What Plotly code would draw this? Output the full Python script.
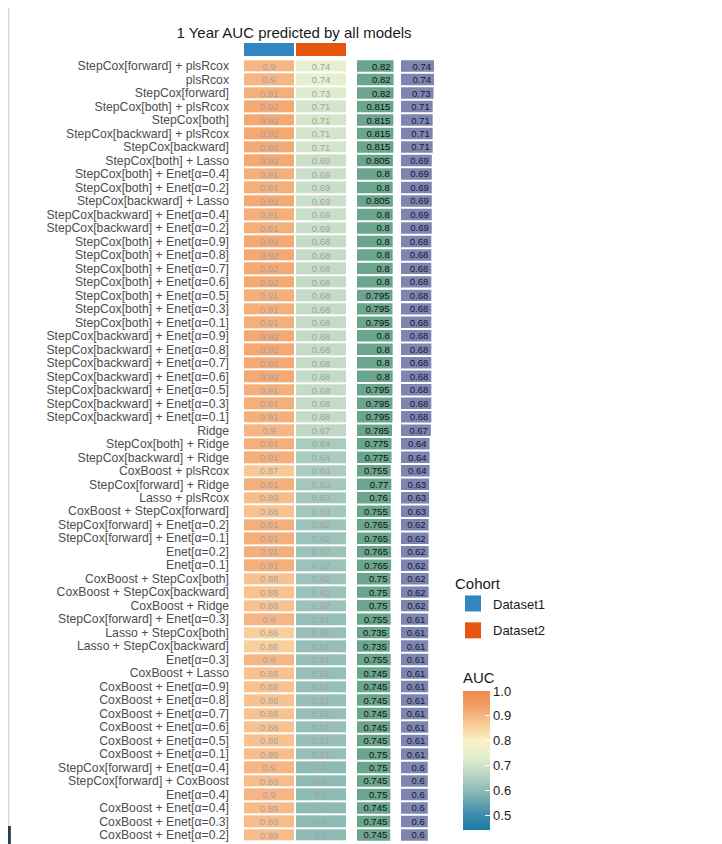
import plotly.graph_objects as go

models = [
    "StepCox[forward] + plsRcox", "plsRcox", "StepCox[forward]", "StepCox[both] + plsRcox",
    "StepCox[both]", "StepCox[backward] + plsRcox", "StepCox[backward]", "StepCox[both] + Lasso",
    "StepCox[both] + Enet[α=0.4]", "StepCox[both] + Enet[α=0.2]", "StepCox[backward] + Lasso",
    "StepCox[backward] + Enet[α=0.4]", "StepCox[backward] + Enet[α=0.2]",
    "StepCox[both] + Enet[α=0.9]", "StepCox[both] + Enet[α=0.8]", "StepCox[both] + Enet[α=0.7]",
    "StepCox[both] + Enet[α=0.6]", "StepCox[both] + Enet[α=0.5]", "StepCox[both] + Enet[α=0.3]",
    "StepCox[both] + Enet[α=0.1]", "StepCox[backward] + Enet[α=0.9]", "StepCox[backward] + Enet[α=0.8]",
    "StepCox[backward] + Enet[α=0.7]", "StepCox[backward] + Enet[α=0.6]", "StepCox[backward] + Enet[α=0.5]",
    "StepCox[backward] + Enet[α=0.3]", "StepCox[backward] + Enet[α=0.1]", "Ridge",
    "StepCox[both] + Ridge", "StepCox[backward] + Ridge", "CoxBoost + plsRcox", "StepCox[forward] + Ridge",
    "Lasso + plsRcox", "CoxBoost + StepCox[forward]", "StepCox[forward] + Enet[α=0.2]",
    "StepCox[forward] + Enet[α=0.1]", "Enet[α=0.2]", "Enet[α=0.1]", "CoxBoost + StepCox[both]",
    "CoxBoost + StepCox[backward]", "CoxBoost + Ridge", "StepCox[forward] + Enet[α=0.3]",
    "Lasso + StepCox[both]", "Lasso + StepCox[backward]", "Enet[α=0.3]", "CoxBoost + Lasso",
    "CoxBoost + Enet[α=0.9]", "CoxBoost + Enet[α=0.8]", "CoxBoost + Enet[α=0.7]",
    "CoxBoost + Enet[α=0.6]", "CoxBoost + Enet[α=0.5]", "CoxBoost + Enet[α=0.1]",
    "StepCox[forward] + Enet[α=0.4]", "StepCox[forward] + CoxBoost", "Enet[α=0.4]",
    "CoxBoost + Enet[α=0.4]", "CoxBoost + Enet[α=0.3]", "CoxBoost + Enet[α=0.2]",
]

auc_dataset1 = [
    0.9, 0.9, 0.91, 0.92, 0.92, 0.92, 0.92, 0.92, 0.91, 0.91, 0.92, 0.91, 0.91,
    0.92, 0.92, 0.92, 0.92, 0.91, 0.91, 0.91, 0.92, 0.92, 0.92, 0.92, 0.91, 0.91, 0.91,
    0.9, 0.91, 0.91, 0.87, 0.91, 0.89, 0.88, 0.91, 0.91, 0.91, 0.91, 0.88, 0.88, 0.88,
    0.9, 0.86, 0.86, 0.9, 0.88, 0.88, 0.88, 0.88, 0.88, 0.88, 0.89, 0.9, 0.89, 0.9,
    0.89, 0.89, 0.89,
]
auc_dataset2 = [
    0.74, 0.74, 0.73, 0.71, 0.71, 0.71, 0.71, 0.69, 0.69, 0.69, 0.69, 0.69, 0.69,
    0.68, 0.68, 0.68, 0.68, 0.68, 0.68, 0.68, 0.68, 0.68, 0.68, 0.68, 0.68, 0.68, 0.68,
    0.67, 0.64, 0.64, 0.64, 0.63, 0.63, 0.63, 0.62, 0.62, 0.62, 0.62, 0.62, 0.62, 0.62,
    0.61, 0.61, 0.61, 0.61, 0.61, 0.61, 0.61, 0.61, 0.61, 0.61, 0.61, 0.6, 0.6, 0.6,
    0.6, 0.6, 0.6,
]
mean_auc = [
    0.82, 0.82, 0.82, 0.815, 0.815, 0.815, 0.815, 0.805, 0.8, 0.8, 0.805, 0.8, 0.8,
    0.8, 0.8, 0.8, 0.8, 0.795, 0.795, 0.795, 0.8, 0.8, 0.8, 0.8, 0.795, 0.795, 0.795,
    0.785, 0.775, 0.775, 0.755, 0.77, 0.76, 0.755, 0.765, 0.765, 0.765, 0.765, 0.75, 0.75, 0.75,
    0.755, 0.735, 0.735, 0.755, 0.745, 0.745, 0.745, 0.745, 0.745, 0.745, 0.75, 0.75, 0.745, 0.75,
    0.745, 0.745, 0.745,
]
cohorts = ["Dataset1", "Dataset2"]
cohort_colors = ["#2f86c1", "#e5570f"]
colorbar_ticks = [0.5, 0.6, 0.7, 0.8, 0.9, 1.0]

# page has an 8px body margin at top/left: figure shifted accordingly
OFF = 8
W, H = 722 - OFF, 844 - OFF
def px_x(p): return (p - OFF) / W
def px_y(p): return 1 - (p - OFF) / H

n = len(models)
zmin, zmax = 0.44, 1.0
def nv(v): return (v - zmin) / (zmax - zmin)
colorscale = [
    [nv(0.44), "#1c7ba5"], [nv(0.5), "#3a8bab"], [nv(0.6), "#8fbbb5"],
    [nv(0.68), "#c4dcc6"], [nv(0.74), "#e6efd0"], [nv(0.8), "#fbf1c3"],
    [nv(0.87), "#f8c994"], [nv(0.9), "#f6b584"], [nv(0.92), "#f4a872"],
    [nv(1.0), "#ee8a48"],
]

def fmt(v):
    return ("%.3f" % v).rstrip("0").rstrip(".")

z = [[a, b] for a, b in zip(auc_dataset1, auc_dataset2)]
ztext = [[fmt(a), fmt(b)] for a, b in zip(auc_dataset1, auc_dataset2)]

fig = go.Figure()
fig.add_trace(go.Heatmap(
    z=z, x=cohorts, y=models, text=ztext, texttemplate="%{text}",
    textfont=dict(size=9.5, color="#a3a3a3", family="Liberation Sans"),
    colorscale=colorscale, zmin=zmin, zmax=zmax, xgap=2, ygap=2,
    xaxis="x", yaxis="y", hoverinfo="skip", showlegend=False,
    colorbar=dict(
        title=dict(text="AUC", side="top", font=dict(size=15, color="#1a1a1a")),
        x=px_x(463), xanchor="left", y=px_y(669), yanchor="top",
        lenmode="pixels", len=161, thickness=27, outlinewidth=0,
        tickvals=colorbar_ticks, ticktext=["%.1f" % t for t in colorbar_ticks],
        ticks="inside", tickcolor="white", ticklen=5,
        tickfont=dict(size=13, color="#1a1a1a"), ypad=0, xpad=0,
    ),
))

fig.add_trace(go.Heatmap(
    z=[[0, 1]], x=cohorts, y=["Cohort"],
    colorscale=[[0, cohort_colors[0]], [0.5, cohort_colors[0]], [0.5, cohort_colors[1]], [1, cohort_colors[1]]],
    zmin=0, zmax=1, showscale=False, xgap=2, xaxis="x2", yaxis="y2", hoverinfo="skip",
))

fig.add_trace(go.Bar(
    x=mean_auc, y=models, orientation="h", width=0.85,
    marker=dict(color="#6aa58d", line=dict(width=0)),
    text=[fmt(v) for v in mean_auc], textposition="inside", insidetextanchor="end",
    constraintext="none", cliponaxis=False,
    textangle=0, textfont=dict(size=9.5, color="#111111", family="Liberation Sans"),
    xaxis="x3", yaxis="y", showlegend=False, hoverinfo="skip",
))
fig.add_trace(go.Bar(
    x=auc_dataset2, y=models, orientation="h", width=0.85,
    marker=dict(color="#7e86b0", line=dict(width=0)),
    text=[fmt(v) for v in auc_dataset2], textposition="inside", insidetextanchor="end",
    constraintext="none", cliponaxis=False,
    textangle=0, textfont=dict(size=9.5, color="#15183a", family="Liberation Sans"),
    xaxis="x4", yaxis="y", showlegend=False, hoverinfo="skip",
))

for name, col in zip(cohorts, cohort_colors):
    fig.add_trace(go.Scatter(
        x=[None], y=[None], mode="markers", name=name, legendgroup=name,
        marker=dict(symbol="square", size=16, color=col),
        xaxis="x", yaxis="y", showlegend=True,
    ))

hidden = dict(showgrid=False, zeroline=False, showticklabels=False, ticks="", showline=False)
fig.update_layout(
    width=W, height=H, margin=dict(l=0, r=0, t=0, b=0),
    paper_bgcolor="white", plot_bgcolor="white",
    font=dict(family="Liberation Sans", color="#1a1a1a"),
    title=dict(text="1 Year AUC predicted by all models", x=px_x(294), xanchor="center",
               y=px_y(33), yanchor="middle", font=dict(size=15, color="#1a1a1a")),
    xaxis=dict(domain=[px_x(243), px_x(347)], **hidden),
    xaxis2=dict(domain=[px_x(243), px_x(347)], anchor="y2", **hidden),
    xaxis3=dict(domain=[px_x(357), px_x(401.6)], range=[0, 1], anchor="y", **hidden),
    xaxis4=dict(domain=[px_x(401), px_x(445.6)], range=[0, 1], anchor="y", **hidden),
    yaxis=dict(domain=[max(0, px_y(841.7)), px_y(59.3)], categoryorder="array", categoryarray=models,
               tickmode="array", tickvals=models, ticktext=models,
               range=[n - 0.5, -0.5], showgrid=False, zeroline=False, ticks="",
               showline=False, ticklabelstandoff=13,
               tickfont=dict(size=12.2, color="#4d4d4d")),
    yaxis2=dict(domain=[px_y(56), px_y(43)], anchor="x2", **hidden),
    legend=dict(title=dict(text="Cohort", font=dict(size=15, color="#1a1a1a")),
                x=px_x(453), xanchor="left", y=px_y(569), yanchor="top",
                font=dict(size=13, color="#1a1a1a"), itemsizing="trace",
                tracegroupgap=7, bgcolor="rgba(0,0,0,0)"),
    bargap=0.15,
    shapes=[
        dict(type="line", xref="paper", yref="paper", x0=0.001, x1=0.001, y0=px_y(826), y1=1,
             line=dict(color="#c8c8c8", width=1)),
        dict(type="rect", xref="paper", yref="paper", x0=0, x1=0.004, y0=0, y1=px_y(826),
             line=dict(width=0), fillcolor="#2b3a55"),
    ],
)

fig.write_html("out.html")
